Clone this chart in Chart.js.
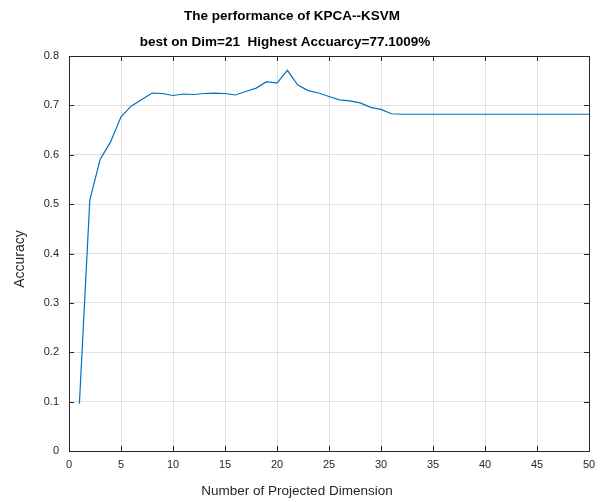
<!DOCTYPE html>
<html>
<head>
<meta charset="utf-8">
<script src="https://cdn.jsdelivr.net/npm/chart.js@4.4.1/dist/chart.umd.min.js"></script>
<style>
  html, body { margin: 0; padding: 0; background: #fff; }
  #wrap { width: 607px; height: 502px; }
</style>
</head>
<body>
<div id="wrap"><canvas id="perf"></canvas></div>
<script>
const dims = [1, 2, 3, 4, 5, 6, 7, 8, 9, 10,
   11, 12, 13, 14, 15, 16, 17, 18, 19, 20,
   21, 22, 23, 24, 25, 26, 27, 28, 29, 30,
   31, 32, 33, 34, 35, 36, 37, 38, 39, 40,
   41, 42, 43, 44, 45, 46, 47, 48, 49, 50]

const accuracy = [0.096, 0.508, 0.591, 0.626, 0.677, 0.699, 0.712, 0.725, 0.724, 0.720,
   0.723, 0.722, 0.724, 0.725, 0.724, 0.721, 0.728, 0.735, 0.748, 0.745,
   0.771, 0.741, 0.730, 0.725, 0.718, 0.711, 0.709, 0.705, 0.696, 0.692,
   0.683, 0.682, 0.682, 0.682, 0.682, 0.682, 0.682, 0.682, 0.682, 0.682,
   0.682, 0.682, 0.682, 0.682, 0.682, 0.682, 0.682, 0.682, 0.682, 0.682]

const titleLines = ['The performance of KPCA--KSVM', 'best on Dim=21  Highest Accuarcy=77.1009%']
const xTitle = 'Number of Projected Dimension'
const yTitle = 'Accuracy'

const axisColor = '#262626'
const gridColor = '#e0e0e0'
const fontName = '"Liberation Sans", Arial, Helvetica, sans-serif'

// box, inward tick marks and the texts, matlab style
const matlabFrame = {
   id: 'matlabFrame',
   afterDraw(chart) {
      const ctx = chart.ctx
      const a = chart.chartArea
      const xs = chart.scales.x
      const ys = chart.scales.y
      ctx.save()
      ctx.strokeStyle = axisColor
      ctx.lineWidth = 1
      ctx.beginPath()
      ctx.moveTo(a.left, a.top + 0.5)
      ctx.lineTo(a.right + 0.5, a.top + 0.5)
      ctx.lineTo(a.right + 0.5, a.bottom)
      const tl = 5
      xs.ticks.forEach(t => {
         const px = Math.round(xs.getPixelForValue(t.value)) + 0.5
         ctx.moveTo(px, a.bottom); ctx.lineTo(px, a.bottom - tl)
         ctx.moveTo(px, a.top); ctx.lineTo(px, a.top + tl)
      })
      ys.ticks.forEach(t => {
         const py = Math.round(ys.getPixelForValue(t.value)) + 0.5
         ctx.moveTo(a.left, py); ctx.lineTo(a.left + tl, py)
         ctx.moveTo(a.right, py); ctx.lineTo(a.right - tl, py)
      })
      ctx.stroke()

      ctx.fillStyle = '#000'
      ctx.textAlign = 'center'
      ctx.textBaseline = 'middle'
      ctx.font = 'bold 13.5px ' + fontName
      ctx.fillText(titleLines[0], 292, 16)
      ctx.fillText(titleLines[1], 285, 42)

      ctx.fillStyle = axisColor
      ctx.font = '13.5px ' + fontName
      ctx.fillText(xTitle, 297, 491)
      ctx.translate(20, 259)
      ctx.rotate(-Math.PI / 2)
      ctx.font = '14px ' + fontName
      ctx.fillText(yTitle, 0, 0)
      ctx.restore()
   }
}

const perf = document.getElementById('perf')

new Chart(perf, {
   type: 'line',
   data: {
      datasets: [{
         data: dims.map((d, i) => ({ x: d, y: accuracy[i] })),
         borderColor: '#0072BD',
         borderWidth: 1.2,
         pointRadius: 0,
         tension: 0,
         fill: false
      }]
   },
   options: {
      responsive: true,
      maintainAspectRatio: false,
      animation: false,
      layout: { padding: { top: 56, right: 18, left: 0, bottom: 0 } },
      plugins: {
         legend: { display: false },
         tooltip: { enabled: false }
      },
      scales: {
         x: {
            type: 'linear',
            min: 0,
            max: 50,
            ticks: { stepSize: 5, color: axisColor, padding: 7, maxRotation: 0, font: { family: fontName, size: 11 } },
            grid: { color: gridColor, drawTicks: false },
            border: { color: axisColor },
            afterFit: s => { s.height = 51 }
         },
         y: {
            min: 0,
            max: 0.8,
            ticks: { stepSize: 0.1, color: axisColor, padding: 10, font: { family: fontName, size: 11 } },
            grid: { color: gridColor, drawTicks: false },
            border: { color: axisColor },
            afterFit: s => { s.width = 69 }
         }
      }
   },
   plugins: [matlabFrame]
});
</script>
</body>
</html>
